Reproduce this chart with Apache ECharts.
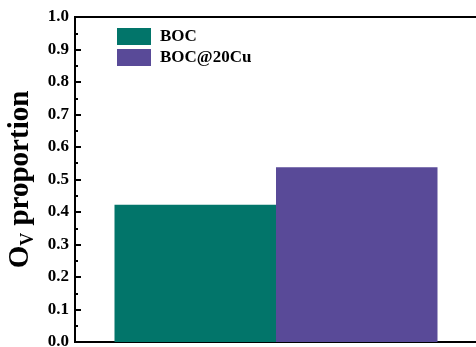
<!DOCTYPE html>
<html><head><meta charset="utf-8">
<script src="https://cdn.jsdelivr.net/npm/echarts@6/dist/echarts.min.js"></script>
<style>html,body{margin:0;padding:0;background:#fff}#c{width:476px;height:347px}</style>
</head><body><div id="c"></div>
<script>
const categories = ['Sample'];
const seriesNames = ['BOC', 'BOC@20Cu'];
const bocValues = [0.422];
const bocCuValues = [0.538];
const yTicks = [0, 1, 0.1];

const font = '"Liberation Serif","Times New Roman",serif';
const chart = echarts.init(document.getElementById('c'), null, {renderer: 'canvas'});
chart.setOption({
  animation: false,
  grid: {left: 75, top: 17, width: 402, height: 325, show: true, borderColor: '#000', borderWidth: 2,
    backgroundColor: 'transparent', outerBoundsMode: 'none', containLabel: false},
  legend: {
    left: 117, top: 28, orient: 'vertical', itemWidth: 34, itemHeight: 17, itemGap: 4, padding: 0,
    icon: 'rect',
    textStyle: {fontFamily: font, fontWeight: 'bold', fontSize: 17, color: '#000', padding: [0, 0, 0, 4]},
    data: seriesNames
  },
  xAxis: {
    type: 'category', data: categories,
    axisLine: {lineStyle: {color: '#000', width: 2}},
    axisTick: {show: false}, axisLabel: {show: false}
  },
  yAxis: {
    type: 'value', min: yTicks[0], max: yTicks[1], interval: yTicks[2],
    axisLine: {show: true, lineStyle: {color: '#000', width: 2}},
    axisTick: {show: true, inside: true, length: 6, lineStyle: {color: '#000', width: 2}},
    minorTick: {show: true, splitNumber: 2, length: 3, lineStyle: {color: '#000', width: 2}},
    splitLine: {show: false},
    axisLabel: {fontFamily: font, fontWeight: 'bold', fontSize: 17, color: '#000', margin: 6,
      formatter: v => v.toFixed(1)},
    name: '{a|O}{b|V}{a| proportion}',
    nameLocation: 'middle', nameGap: 36, nameRotate: 90,
    nameTextStyle: {
      rich: {
        a: {fontFamily: font, fontWeight: 'bold', fontSize: 29, color: '#000'},
        b: {fontFamily: font, fontWeight: 'bold', fontSize: 18, color: '#000', verticalAlign: 'bottom', padding: [14, 0, 0, 0]}
      }
    }
  },
  series: [
    {name: seriesNames[0], type: 'bar', data: bocValues, barWidth: 161.5, barGap: '0%', itemStyle: {color: '#02756a'}},
    {name: seriesNames[1], type: 'bar', data: bocCuValues, barWidth: 161.5, barGap: '0%', itemStyle: {color: '#594a98'}}
  ]
});
</script></body></html>
